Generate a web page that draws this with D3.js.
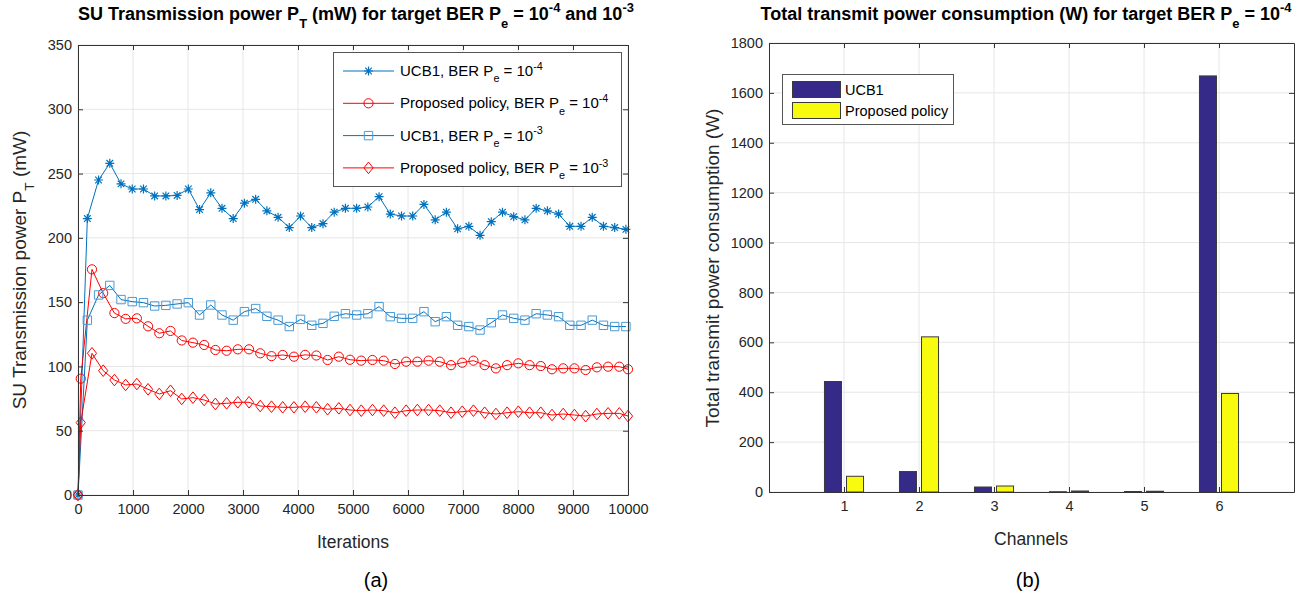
<!DOCTYPE html>
<html><head><meta charset="utf-8">
<script src="https://cdn.jsdelivr.net/npm/d3@7"></script>
<style>body{margin:0;background:#fff}svg{display:block}text{font-family:"Liberation Sans",Arial,Helvetica,sans-serif}</style>
</head><body><svg id="c" width="1297" height="598"></svg>
<script>
// ---------- DATA (a) ----------
const iterUCB = [0,170,374,578,782,986,1190,1394,1598,1802,2006,2210,2414,2618,2822,3026,3230,3434,3638,3842,4046,4250,4454,4658,4862,5066,5270,5474,5678,5882,6086,6290,6494,6698,6902,7106,7310,7514,7718,7922,8126,8330,8534,8738,8942,9146,9350,9554,9758,9962];
const iterProp = [0,50,254,458,662,866,1070,1274,1478,1682,1886,2090,2294,2498,2702,2906,3110,3314,3518,3722,3926,4130,4334,4538,4742,4946,5150,5354,5558,5762,5966,6170,6374,6578,6782,6986,7190,7394,7598,7802,8006,8210,8414,8618,8822,9026,9230,9434,9638,9842,10000];
const ucbBer4 = [0,215,245,258,242,238,238,232.6,232.6,233,238,222,235,223,215,227,230,221,216,208,217,208,211,220,223,223,224,232,218.5,217,217,226,214,220,207,209,202,212.6,220,216.5,214,223,221,218.5,209,209,216,209,208,206.6];
const ucbBer3 = [0,136,155.6,163,152,150.4,149.6,147,147.5,148.6,149.6,140,147.8,140,136,142.6,145,139,136,131,136.6,132,133.5,139,141,140,141,146.5,138.7,137.4,137.4,142.6,134.8,138.7,132,131,128.3,134,140,137.4,136,141,140,138.7,132,132,136,132,131,131];
const propBer4 = [0,90.5,175.5,157,141.5,137,137.4,131.2,125.8,127.6,120.2,118.5,116.7,112.8,112.2,113.3,113.3,110.2,108,108.9,107.6,109,108.5,105,107.6,105.2,104.5,105,104.5,101.9,103.7,103.7,104.5,103.7,101,102.9,104.5,101,98.5,101,102.4,101,100.3,97.8,98.5,98.5,97.2,99.3,99.8,99.8,97.8];
const propBer3 = [0,56.3,110.2,96.7,89.4,85.6,86.3,82.2,78.6,81.1,74.7,75.7,73.9,70.8,71.3,72.1,72.1,69.2,68.7,68.2,68.2,68.7,68.2,66.7,67.4,66.1,65.6,66.1,65.6,64,65.6,66.1,66.1,65.6,64,64.8,65.6,64,63,64,64.8,64,64,62.2,63,62.2,61.4,63,63.5,63.5,61.4];
const xTicksA = [0,1000,2000,3000,4000,5000,6000,7000,8000,9000,10000];
const yTicksA = [0,50,100,150,200,250,300,350];
// ---------- DATA (b) ----------
const channels = [1,2,3,4,5,6];
const ucbTotal = [443,82,20,1,2,1668];
const propTotal = [63,622,24,4,3,395];
const yTicksB = [0,200,400,600,800,1000,1200,1400,1600,1800];

const svg = d3.select('#c');
const AX = '#333', GRID = '#e6e6e6', TXT = '#262626';
const BLUE = '#0072BD', BLUE2 = '#4a9bd6', RED = '#ff0000';
const TICK = 14.5, XLAB = 17.5, YLAB = 19, TITLE = 18, LEG = 15;

function rich(t, parts, size){
  let shift = 0;
  parts.forEach(p=>{
    const target = p.sub ? size*0.42 : p.sup ? -size*0.42 : 0;
    const ts = t.append('tspan').text(p.t);
    if (target - shift !== 0) ts.attr('dy', target - shift);
    if (p.sub || p.sup) ts.attr('font-size', size*0.72);
    shift = target;
  });
}

function frame(g, x, y, xt, yt){
  const [x0,x1] = x.range(), [y0,y1] = y.range();
  g.append('g').selectAll('line').data(xt).join('line')
    .attr('x1', d=>x(d)).attr('x2', d=>x(d)).attr('y1', y0).attr('y2', y1)
    .attr('stroke', GRID);
  g.append('g').selectAll('line').data(yt).join('line')
    .attr('x1', x0).attr('x2', x1).attr('y1', d=>y(d)).attr('y2', d=>y(d))
    .attr('stroke', GRID);
}
function axes(g, x, y, xt, yt, xpad, ypad){
  const [x0,x1] = x.range(), [y0,y1] = y.range();
  const b = g.append('g').attr('transform',`translate(0,${y0})`)
    .call(d3.axisBottom(x).tickValues(xt).tickSizeInner(-5).tickSizeOuter(0).tickPadding(xpad).tickFormat(d3.format('d')));
  const t = g.append('g').attr('transform',`translate(0,${y1})`)
    .call(d3.axisTop(x).tickValues(xt).tickSizeInner(-5).tickSizeOuter(0).tickFormat(''));
  const l = g.append('g').attr('transform',`translate(${x0},0)`)
    .call(d3.axisLeft(y).tickValues(yt).tickSizeInner(-5).tickSizeOuter(0).tickPadding(ypad).tickFormat(d3.format('d')));
  const r = g.append('g').attr('transform',`translate(${x1},0)`)
    .call(d3.axisRight(y).tickValues(yt).tickSizeInner(-5).tickSizeOuter(0).tickFormat(''));
  [b,t,l,r].forEach(a=>{
    a.selectAll('.domain').attr('stroke', AX);
    a.selectAll('.tick line').attr('stroke', AX);
    a.selectAll('text').attr('fill', TXT).attr('font-size', TICK)
      .attr('font-family','"Liberation Sans",Arial,sans-serif');
  });
}

// ================= (a) =================
const xA = d3.scaleLinear().domain([0,10000]).range([78,628]);
const yA = d3.scaleLinear().domain([0,350]).range([495,45]);
const gA = svg.append('g');
frame(gA, xA, yA, xTicksA, yTicksA);

const lineA = (xs) => d3.line().x((d,i)=>xA(xs[i])).y(d=>yA(d));
const sym = {
  star: 'M-4.5,0H4.5M0,-4.5V4.5M-3.3,-3.3L3.3,3.3M-3.3,3.3L3.3,-3.3',
  square: 'M-4.2,-4.2H4.2V4.2H-4.2Z',
  diamond: 'M0,-5.8L4.6,0L0,5.8L-4.6,0Z'
};
const seriesA = [
  {xs:iterUCB, ys:ucbBer4, color:BLUE, mcolor:BLUE, marker:'star'},
  {xs:iterProp, ys:propBer4, color:RED, mcolor:RED, marker:'circle'},
  {xs:iterUCB, ys:ucbBer3, color:BLUE, mcolor:BLUE2, marker:'square'},
  {xs:iterProp, ys:propBer3, color:RED, mcolor:RED, marker:'diamond'}
];
function drawMarker(sel, kind, color){
  if (kind === 'circle') sel.append('circle').attr('r',4.6).attr('fill','none').attr('stroke',color).attr('stroke-width',1);
  else sel.append('path').attr('d', sym[kind]).attr('fill','none').attr('stroke',color).attr('stroke-width', kind==='star'?1.2:1);
}
seriesA.forEach(s=>{
  gA.append('path').datum(s.ys).attr('d', lineA(s.xs)).attr('fill','none').attr('stroke', s.color).attr('stroke-width',1);
  gA.append('g').selectAll('g').data(s.ys).join('g')
    .attr('transform',(d,i)=>`translate(${xA(s.xs[i])},${yA(d)})`)
    .each(function(){ drawMarker(d3.select(this), s.marker, s.mcolor); });
});
axes(gA, xA, yA, xTicksA, yTicksA, 9, 6);

rich(svg.append('text').attr('x',356).attr('y',20).attr('text-anchor','middle').attr('font-weight','bold').attr('font-size',TITLE).attr('fill','#000'),
  [{t:'SU Transmission power P'},{t:'T',sub:true},{t:' (mW) for target BER P'},{t:'e',sub:true},{t:' = 10'},{t:'-4',sup:true},{t:' and 10'},{t:'-3',sup:true}], TITLE);
svg.append('text').attr('x',353).attr('y',548).attr('text-anchor','middle').attr('font-size',XLAB).attr('fill',TXT).text('Iterations');
rich(svg.append('text').attr('transform','translate(26,270) rotate(-90)').attr('text-anchor','middle').attr('font-size',YLAB).attr('fill',TXT),
  [{t:'SU Transmission power P'},{t:'T',sub:true},{t:' (mW)'}], YLAB);

const legA = svg.append('g');
legA.append('rect').attr('x',333.5).attr('y',52.5).attr('width',288).attr('height',134).attr('fill','#fff').attr('stroke','#555');
const legLabelsA = [
  [{t:'UCB1, BER P'},{t:'e',sub:true},{t:' = 10'},{t:'-4',sup:true}],
  [{t:'Proposed policy, BER P'},{t:'e',sub:true},{t:' = 10'},{t:'-4',sup:true}],
  [{t:'UCB1, BER P'},{t:'e',sub:true},{t:' = 10'},{t:'-3',sup:true}],
  [{t:'Proposed policy, BER P'},{t:'e',sub:true},{t:' = 10'},{t:'-3',sup:true}]
];
seriesA.forEach((s,i)=>{
  const cy = 71 + i*32.3;
  legA.append('line').attr('x1',343).attr('x2',394).attr('y1',cy).attr('y2',cy).attr('stroke',s.color).attr('stroke-width',1);
  drawMarker(legA.append('g').attr('transform',`translate(368.5,${cy})`), s.marker, s.mcolor);
  rich(legA.append('text').attr('x',400).attr('y',cy+5).attr('font-size',LEG).attr('fill','#000'), legLabelsA[i], LEG);
});

// ================= (b) =================
const xB = d3.scaleLinear().domain([0,7]).range([769,1294]);
const yB = d3.scaleLinear().domain([0,1800]).range([492,43]);
const gB = svg.append('g');
frame(gB, xB, yB, channels, yTicksB);
const off = 0.147, bw = 0.227;
gB.append('g').selectAll('rect').data(ucbTotal).join('rect')
  .attr('x',(d,i)=>xB(channels[i]-off-bw/2)).attr('width', xB(bw)-xB(0))
  .attr('y', d=>yB(d)).attr('height', d=>yB(0)-yB(d))
  .attr('fill','#352a87').attr('stroke','#3a3a3a').attr('stroke-width',1);
gB.append('g').selectAll('rect').data(propTotal).join('rect')
  .attr('x',(d,i)=>xB(channels[i]+off-bw/2)).attr('width', xB(bw)-xB(0))
  .attr('y', d=>yB(d)).attr('height', d=>yB(0)-yB(d))
  .attr('fill','#f9fb0e').attr('stroke','#3a3a3a').attr('stroke-width',1);
axes(gB, xB, yB, channels, yTicksB, 9, 6);

rich(svg.append('text').attr('x',1026).attr('y',20).attr('text-anchor','middle').attr('font-weight','bold').attr('font-size',TITLE).attr('fill','#000'),
  [{t:'Total transmit power consumption (W) for target BER P'},{t:'e',sub:true},{t:' = 10'},{t:'-4',sup:true}], TITLE);
svg.append('text').attr('x',1031).attr('y',545).attr('text-anchor','middle').attr('font-size',XLAB).attr('fill',TXT).text('Channels');
svg.append('text').attr('transform','translate(719,268) rotate(-90)').attr('text-anchor','middle').attr('font-size',YLAB).attr('fill',TXT).text('Total transmit power consumption (W)');

const legB = svg.append('g');
legB.append('rect').attr('x',782.5).attr('y',74.5).attr('width',171).attr('height',50).attr('fill','#fff').attr('stroke','#555');
[['UCB1','#352a87'],['Proposed policy','#f9fb0e']].forEach(([lab,col],i)=>{
  const y0 = 81 + i*21;
  legB.append('rect').attr('x',792.5).attr('y',y0+0.5).attr('width',48).attr('height',16).attr('fill',col).attr('stroke','#3a3a3a');
  legB.append('text').attr('x',845).attr('y',y0+14).attr('font-size',14.5).attr('fill','#000').text(lab);
});

svg.append('text').attr('x',376).attr('y',587).attr('text-anchor','middle').attr('font-family','"Liberation Serif","Times New Roman",serif').attr('font-size',20).text('(a)');
svg.append('text').attr('x',1028).attr('y',587).attr('text-anchor','middle').attr('font-family','"Liberation Serif","Times New Roman",serif').attr('font-size',20).text('(b)');
</script></body></html>
